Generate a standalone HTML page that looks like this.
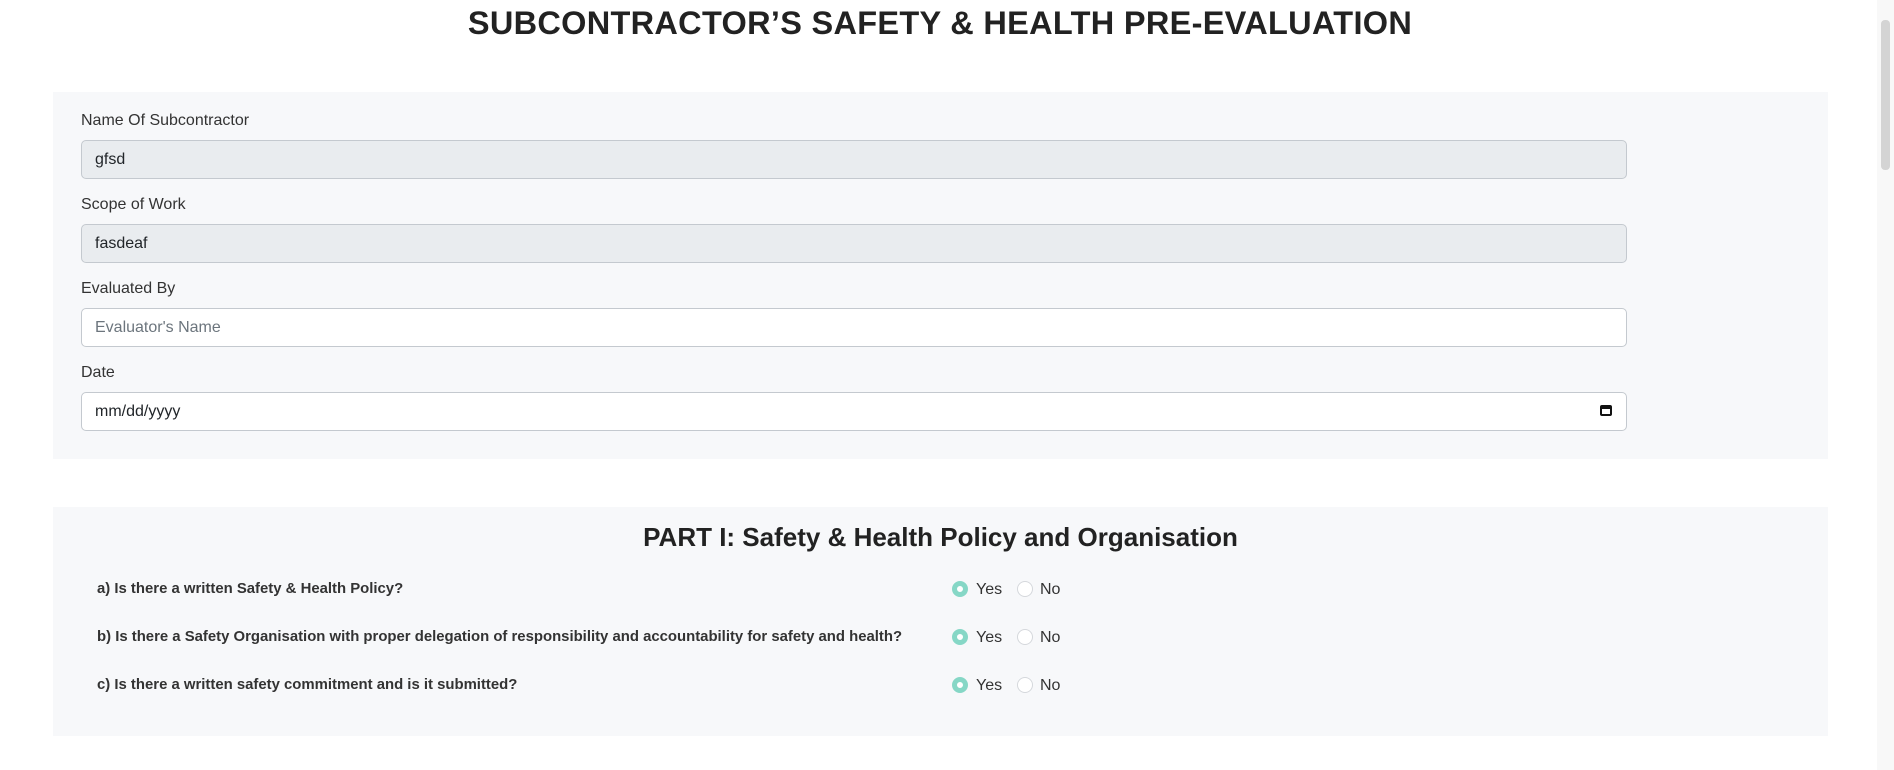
<!DOCTYPE html>
<html><head><meta charset="utf-8"><style>
body{margin:0;width:1894px;height:770px;background:#fff;font-family:"Liberation Sans",sans-serif;color:#212529;position:relative;overflow:hidden}
.abs{position:absolute}
h1{position:absolute;top:5px;left:0;width:1880px;text-align:center;margin:0;font-size:32.5px;font-weight:bold;color:#222;letter-spacing:0.3px}
.panel{position:absolute;left:53px;width:1775px;background:#f7f8fa}
.lbl{position:absolute;left:81px;font-size:16px;color:#333}
.inp{position:absolute;left:81px;border:1px solid #c4c9cf;border-radius:5px;background:#fff;font-size:16px;line-height:37px;padding-left:13px;box-sizing:border-box;width:1546px;height:39px}
.dis{background:#e9ecef}
.q{position:absolute;left:97px;font-size:14.9px;font-weight:bold;color:#333}
.r{position:absolute;width:16px;height:16px;border-radius:50%;box-sizing:border-box}
.on{border:5px solid #86d7c6;background:#fff}
.off{border:1px solid #d5d8dc;background:#fff}
.rt{position:absolute;font-size:16px;color:#333}
</style></head><body>
<h1>SUBCONTRACTOR’S SAFETY &amp; HEALTH PRE-EVALUATION</h1>
<div class="panel" style="top:92px;height:367px"></div>
<div class="lbl" style="top:112px">Name Of Subcontractor</div>
<div class="inp dis" style="top:140px">gfsd</div>
<div class="lbl" style="top:196px">Scope of Work</div>
<div class="inp dis" style="top:224px">fasdeaf</div>
<div class="lbl" style="top:280px">Evaluated By</div>
<div class="inp" style="top:308px;color:#6c757d">Evaluator's Name</div>
<div class="lbl" style="top:364px">Date</div>
<div class="inp" style="top:392px">mm/dd/yyyy<span style="position:absolute;right:14px;top:12px;width:12px;height:11px;border:2px solid #111;border-top-width:4px;border-radius:2px;box-sizing:border-box"></span></div>
<div class="panel" style="top:507px;height:229px"></div>
<div class="abs" style="top:522px;left:53px;width:1775px;text-align:center;font-size:26px;font-weight:bold;color:#222">PART I: Safety &amp; Health Policy and Organisation</div>
<div class="q" style="top:581px">a) Is there a written Safety &amp; Health Policy?</div>
<div class="q" style="top:629px">b) Is there a Safety Organisation with proper delegation of responsibility and accountability for safety and health?</div>
<div class="q" style="top:677px">c) Is there a written safety commitment and is it submitted?</div>
<div class="r on" style="left:952px;top:581px"></div><div class="rt" style="left:976px;top:581px">Yes</div>
<div class="r off" style="left:1017px;top:581px"></div><div class="rt" style="left:1040px;top:581px">No</div>
<div class="r on" style="left:952px;top:629px"></div><div class="rt" style="left:976px;top:629px">Yes</div>
<div class="r off" style="left:1017px;top:629px"></div><div class="rt" style="left:1040px;top:629px">No</div>
<div class="r on" style="left:952px;top:677px"></div><div class="rt" style="left:976px;top:677px">Yes</div>
<div class="r off" style="left:1017px;top:677px"></div><div class="rt" style="left:1040px;top:677px">No</div>
<div class="abs" style="left:1877px;top:0;width:17px;height:770px;background:#f8f8f8"><div style="position:absolute;left:4px;top:20px;width:9px;height:150px;background:#d4d4d4;border-radius:4px"></div></div>
</body></html>
